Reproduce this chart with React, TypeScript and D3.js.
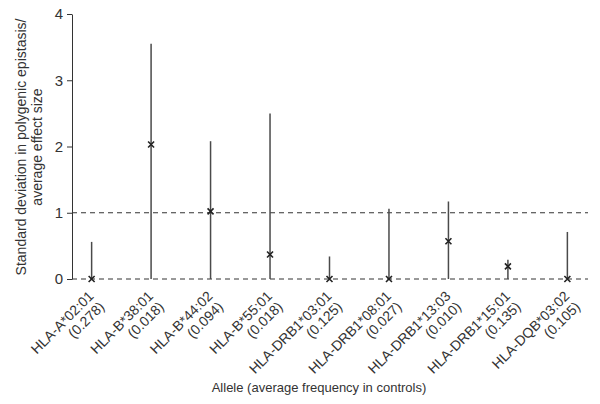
import React, { useEffect, useRef } from "react";
import * as d3 from "d3";

// alleles and their average frequency in controls
const alleles = [
  "HLA-A*02:01",
  "HLA-B*38:01",
  "HLA-B*44:02",
  "HLA-B*55:01",
  "HLA-DRB1*03:01",
  "HLA-DRB1*08:01",
  "HLA-DRB1*13:03",
  "HLA-DRB1*15:01",
  "HLA-DQB*03:02",
];
const freqs = ["0.278", "0.018", "0.094", "0.018", "0.125", "0.027", "0.010", "0.135", "0.105"];

// point estimate and interval ends
const estimates = [0, 2.03, 1.02, 0.37, 0, 0, 0.57, 0.19, 0];
const upper = [0.56, 3.55, 2.08, 2.5, 0.34, 1.06, 1.17, 0.29, 0.71];
const lower = [0, 0, 0, 0, 0, 0, 0, 0, 0];

const yTicks = [0, 1, 2, 3, 4];
const refLines = [0, 1];

const FONT = "'Liberation Sans', Arial, Helvetica, sans-serif";

const App = () => {
  const ref = useRef<SVGSVGElement>(null);

  useEffect(() => {
    const width = 600,
      height = 404;
    const left = 72,
      right = 587,
      top = 14,
      bottom = 279;

    const svg = d3.select(ref.current);
    svg.selectAll("*").remove();

    const x = d3.scalePoint<string>().domain(alleles).range([left, right]).padding(0.33);
    const y = d3.scaleLinear().domain([0, 4]).range([bottom, top]);

    // dashed reference lines at 0 and 1
    svg
      .selectAll(".ref")
      .data(refLines)
      .enter()
      .append("line")
      .attr("x1", left)
      .attr("x2", 588)
      .attr("y1", (d) => y(d))
      .attr("y2", (d) => y(d))
      .attr("stroke", "#333")
      .attr("stroke-width", 1)
      .attr("stroke-dasharray", "5,4");

    // y axis
    const yAxis = svg
      .append("g")
      .attr("transform", `translate(${left},0)`)
      .call(d3.axisLeft(y).tickValues(yTicks).tickFormat(d3.format("d")).tickSize(5).tickSizeOuter(0).tickPadding(4));
    yAxis.select(".domain").attr("stroke", "#333");
    yAxis.selectAll(".tick line").attr("stroke", "#333");
    yAxis
      .selectAll(".tick text")
      .attr("font-family", FONT)
      .attr("font-size", 15)
      .attr("fill", "#333");

    const data = alleles.map((a, i) => ({
      a,
      est: estimates[i],
      hi: upper[i],
      lo: lower[i],
    }));

    // error bars
    svg
      .selectAll(".bar")
      .data(data)
      .enter()
      .append("line")
      .attr("x1", (d) => x(d.a)!)
      .attr("x2", (d) => x(d.a)!)
      .attr("y1", (d) => y(d.lo))
      .attr("y2", (d) => y(d.hi))
      .attr("stroke", "#4a4a4a")
      .attr("stroke-width", 1.5);

    // x markers
    const s = 3;
    svg
      .selectAll(".mark")
      .data(data)
      .enter()
      .append("path")
      .attr("d", (d) => {
        const cx = x(d.a)!,
          cy = y(d.est);
        return `M${cx - s},${cy - s}L${cx + s},${cy + s}M${cx - s},${cy + s}L${cx + s},${cy - s}`;
      })
      .attr("stroke", "#222")
      .attr("stroke-width", 1.6)
      .attr("fill", "none");

    // rotated category labels
    const labels = svg
      .selectAll(".lab")
      .data(alleles)
      .enter()
      .append("text")
      .attr("transform", (d) => `translate(${x(d)! + 3},297) rotate(-45)`)
      .attr("text-anchor", "end")
      .attr("font-family", FONT)
      .attr("font-size", 14)
      .attr("fill", "#333");
    labels
      .append("tspan")
      .attr("x", 0)
      .attr("dy", 0)
      .text((d) => d);
    labels
      .append("tspan")
      .attr("x", 0)
      .attr("dy", 15)
      .text((d, i) => `(${freqs[i]})`);

    // axis titles
    svg
      .append("text")
      .attr("x", 319)
      .attr("y", 392)
      .attr("text-anchor", "middle")
      .attr("font-family", FONT)
      .attr("font-size", 13)
      .attr("fill", "#333")
      .text("Allele (average frequency in controls)");

    const yt = svg
      .append("text")
      .attr("transform", "translate(26,147) rotate(-90)")
      .attr("text-anchor", "middle")
      .attr("font-family", FONT)
      .attr("font-size", 14)
      .attr("fill", "#333");
    yt.append("tspan").attr("x", 0).attr("dy", 0).text("Standard deviation in polygenic epistasis/");
    yt.append("tspan").attr("x", 0).attr("dy", 16).text("average effect size");

    svg.attr("width", width).attr("height", height);
  }, []);

  return (
    <svg
      ref={ref}
      width={600}
      height={404}
      style={{ position: "absolute", left: 0, top: 0, background: "#fff" }}
    />
  );
};

export default App;
